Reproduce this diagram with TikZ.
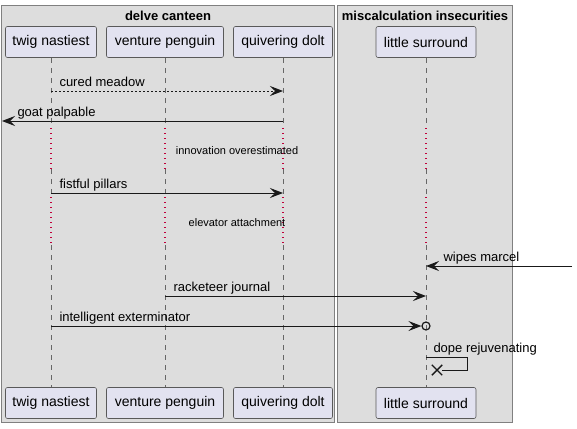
\documentclass[tikz,border=0pt]{standalone}
\usepackage{fontspec}
\setmainfont{Liberation Sans}
\usepackage{tikz}
\usetikzlibrary{arrows.meta, shapes.misc}

\definecolor{grpfill}{HTML}{DDDDDD}
\definecolor{partfill}{HTML}{E2E2F0}
\definecolor{pausecol}{HTML}{C0003A}

\begin{document}
\begin{tikzpicture}[x=1pt, y=-1pt,
    grp/.style={draw=black!50, fill=grpfill, line width=0.8pt},
    grptitle/.style={font=\fontsize{13}{15}\selectfont\bfseries, inner sep=0},
    part/.style={draw=black!65, fill=partfill, rounded corners=2pt, line width=0.6pt,
        minimum height=31pt, inner sep=0, font=\fontsize{14}{16}\selectfont},
    life/.style={black!60, line width=0.7pt, dash pattern=on 5pt off 5pt},
    pause/.style={pausecol, line width=1.1pt, dash pattern=on 1.1pt off 3.9pt},
    msg/.style={black!90, line width=1pt, -{Stealth[length=13pt, width=10pt, inset=5pt]}},
    lbl/.style={font=\fontsize{13}{15}\selectfont, inner sep=0, anchor=base west,
        xshift=8pt, yshift=5pt, text=black},
    note/.style={font=\fontsize{11}{13}\selectfont, inner sep=0}
  ]
  \useasboundingbox (0,0) rectangle (577,428);
  % boxes
  \draw[grp] (1.5,5.5) rectangle (334.5,422.5);
  \draw[grp] (337.5,5.5) rectangle (512.5,422.5);
  \node[grptitle] (g1) at (168,15.5) {delve canteen};
  \node[grptitle] (g2) at (425,15.5) {miscalculation insecurities};
  % participants
  \node[part, minimum width=91pt] (tw) at (51,42) {twig nastiest};
  \node[part, minimum width=117pt] (vp) at (165,42) {venture penguin};
  \node[part, minimum width=99pt] (qd) at (283,42) {quivering dolt};
  \node[part, minimum width=100pt] (ls) at (426,42) {little surround};
  \node[part, minimum width=91pt] (twb) at (51,403) {twig nastiest};
  \node[part, minimum width=117pt] (vpb) at (165,403) {venture penguin};
  \node[part, minimum width=99pt] (qdb) at (283,403) {quivering dolt};
  \node[part, minimum width=100pt] (lsb) at (426,403) {little surround};
  % lifelines
  \foreach \t/\b in {tw/twb, vp/vpb, qd/qdb, ls/lsb} {
    \draw[life] (\t.south) -- (\t |- 0,128);
    \draw[pause] (\t |- 0,128) -- (\t |- 0,169);
    \draw[life] (\t |- 0,169) -- (\t |- 0,197);
    \draw[pause] (\t |- 0,197) -- (\t |- 0,245);
    \draw[life] (\t |- 0,245) -- (\b.north);
  }
  \coordinate (lft) at (2,121);
  \coordinate (rgt) at (572,266);
  % messages
  \draw[msg, dash pattern=on 2pt off 2pt] (tw |- 0,91) -- node[lbl, pos=0] {cured meadow} (qd |- 0,91);
  \draw[msg] (qd |- 0,121) -- node[lbl, pos=1, xshift=7pt] {goat palpable} (lft);
  \node[note] (d1) at (237,151) {innovation overestimated};
  \draw[msg] (tw |- 0,193) -- node[lbl, pos=0] {fistful pillars} (qd |- 0,193);
  \node[note] (d2) at (237,223) {elevator attachment};
  \draw[msg] (rgt) -- node[lbl, pos=1, xshift=9pt] {wipes marcel} (ls |- 0,266);
  \draw[msg] (vp |- 0,296) -- node[lbl, pos=0] {racketeer journal} (ls |- 0,296);
  \node[circle, draw=black!90, line width=1.2pt, minimum size=8pt, inner sep=0] (o) at (ls |- 0,326) {};
  \draw[msg] (tw |- 0,326) -- node[lbl, pos=0] {intelligent exterminator} (o);
  \node[cross out, draw=black!90, line width=1.4pt, minimum size=9pt, inner sep=0] (x) at (437,370) {};
  \draw[black!90, line width=1pt] (ls |- 0,357) node[lbl, xshift=-1pt] {dope rejuvenating}
    -| (467,370) -- (x.east);
\end{tikzpicture}
\end{document}
